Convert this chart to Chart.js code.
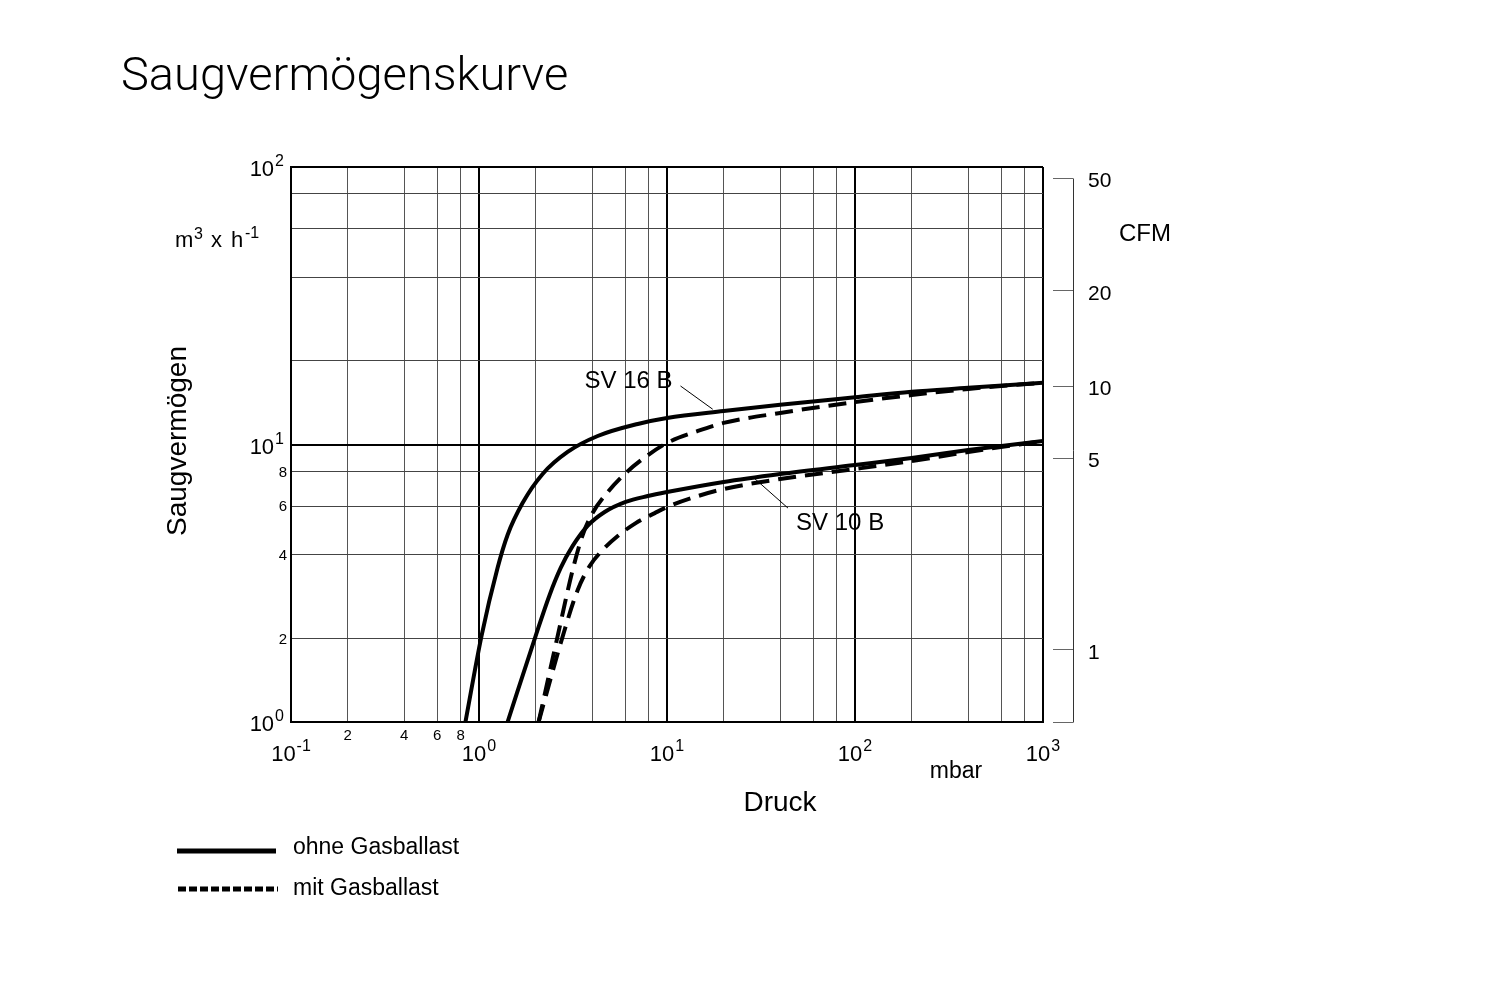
<!DOCTYPE html>
<html><head><meta charset="utf-8">
<script src="https://cdn.jsdelivr.net/npm/chart.js@4.4.1/dist/chart.umd.min.js"></script>
<style>html,body{margin:0;padding:0;background:#fff;}canvas{display:block}</style>
</head><body>
<canvas id="c" width="1504" height="1006"></canvas>
<script>
// ---- axes / ticks ----
const xGridValues = [0.1,0.2,0.4,0.6,0.8,1,2,4,6,8,10,20,40,60,80,100,200,400,600,800,1000];
const xMajorValues = [0.1,1,10,100,1000];
const xMajorExponents = ['-1','0','1','2','3'];
const xMinorLabelValues = [0.2,0.4,0.6,0.8];
const xMinorLabels = ['2','4','6','8'];
const yGridValues = [1,2,4,6,8,10,20,40,60,80,100];
const yMajorValues = [1,10,100];
const yMajorExponents = ['0','1','2'];
const yMinorLabelValues = [2,4,6,8];
const yMinorLabels = ['2','4','6','8'];
// CFM scale: ticks placed where the original prints them
const M3H_PER_CFM = 1.818;
const cfmTickPositions = [50,19.7,8.9,4.9,1];
const cfmTickLabels = ['50','20','10','5','1'];

// ---- series (p in mbar, S in m3/h) ----
const sv16OhneP = [0.847,1.031,1.255,1.419,1.705,2.18,2.96,4.28,6.99,10,20,40,100,200,400,1000];
const sv16OhneS = [1,2.04,3.59,4.72,6.15,7.83,9.40,10.73,11.86,12.46,13.2,13.9,14.8,15.5,16.0,16.7];
const sv16MitP  = [2.075,2.62,3.15,3.56,4.02,4.84,5.96,7.43,10,14.6,20,40,100,200,400,1000];
const sv16MitS  = [1,2.04,3.53,4.72,5.66,6.74,7.83,8.87,10.13,11.19,11.96,12.99,14.23,15.07,15.85,16.7];
const sv10OhneP = [1.419,2.0,2.375,2.72,3.15,3.78,4.66,6.03,7.9,10,20,40,100,200,400,1000];
const sv10OhneS = [1,2.04,2.87,3.59,4.31,5.09,5.71,6.21,6.52,6.74,7.33,7.83,8.44,8.94,9.55,10.3];
const sv10MitP  = [2.075,2.79,3.35,3.88,4.55,5.47,6.82,8.61,10,14.6,20,40,100,200,400,1000];
const sv10MitS  = [1,2.04,2.99,3.65,4.17,4.68,5.21,5.66,5.95,6.52,6.91,7.51,8.16,8.72,9.40,10.3];

const FONT = '"Liberation Sans", Arial, Helvetica, sans-serif';
const pts = (P,S) => P.map((p,i)=>({x:p,y:S[i]}));
const isMajor = v => [1,10,100].some(m => Math.abs(v-m) < 1e-9);

function drawPow(ctx, x, baseline, exp, align) {
  ctx.font = '22px ' + FONT; const w1 = ctx.measureText('10').width;
  ctx.font = '16px ' + FONT; const w2 = ctx.measureText(exp).width;
  const total = w1 + 1 + w2;
  const left = align === 'center' ? x - total/2 : x - total;
  ctx.textAlign = 'left'; ctx.textBaseline = 'alphabetic';
  ctx.font = '22px ' + FONT; ctx.fillText('10', left, baseline);
  ctx.font = '16px ' + FONT; ctx.fillText(exp, left + w1 + 1, baseline - 10);
}

const deco = {
  id: 'deco',
  afterDraw(chart) {
    const ctx = chart.ctx, xs = chart.scales.x, ys = chart.scales.y, cs = chart.scales.cfm;
    ctx.save();
    ctx.fillStyle = '#000'; ctx.strokeStyle = '#000';
    // x labels
    xMajorValues.forEach((v,i) => drawPow(ctx, xs.getPixelForValue(v), 761, xMajorExponents[i], 'center'));
    ctx.font = '15px ' + FONT; ctx.textAlign = 'center'; ctx.textBaseline = 'alphabetic';
    xMinorLabelValues.forEach((v,i) => ctx.fillText(xMinorLabels[i], xs.getPixelForValue(v), 740));
    // y labels
    yMajorValues.forEach((v,i) => drawPow(ctx, 284, ys.getPixelForValue(v) + 9, yMajorExponents[i], 'right'));
    ctx.font = '15px ' + FONT; ctx.textAlign = 'right'; ctx.textBaseline = 'middle';
    yMinorLabelValues.forEach((v,i) => ctx.fillText(yMinorLabels[i], 287, ys.getPixelForValue(v) + 1));
    // CFM axis line
    const lx = cs.left + 20;
    ctx.lineWidth = 1; ctx.strokeStyle = '#333';
    ctx.beginPath(); ctx.moveTo(lx + 0.5, cs.getPixelForValue(cfmTickPositions[0])); ctx.lineTo(lx + 0.5, cs.bottom + 0.5); ctx.stroke();
    // title
    ctx.fillStyle = '#000'; ctx.textAlign = 'left'; ctx.textBaseline = 'alphabetic';
    ctx.font = '300 47px Roboto, ' + FONT; ctx.fillText('Saugvermögenskurve', 121, 90);
    // axis titles & units
    ctx.font = '28px ' + FONT; ctx.textAlign = 'center'; ctx.textBaseline = 'middle';
    ctx.fillText('Druck', 780, 803);
    ctx.save(); ctx.translate(178, 441); ctx.rotate(-Math.PI/2); ctx.fillText('Saugvermögen', 0, 0); ctx.restore();
    ctx.font = '23px ' + FONT; ctx.fillText('mbar', 956, 772);
    ctx.textAlign = 'left'; ctx.font = '24px ' + FONT; ctx.fillText('CFM', 1119, 234);
    // m3 x h-1
    ctx.textBaseline = 'alphabetic';
    ctx.font = '22px ' + FONT; ctx.fillText('m', 175, 247);
    ctx.font = '16px ' + FONT; ctx.fillText('3', 194, 239);
    ctx.font = '22px ' + FONT; ctx.fillText('x', 211, 247); ctx.fillText('h', 231, 247);
    ctx.font = '16px ' + FONT; ctx.fillText('-1', 245, 238);
    // curve labels + leaders
    ctx.font = '24px ' + FONT; ctx.textBaseline = 'middle';
    ctx.textAlign = 'right'; ctx.fillText('SV 16 B', xs.getPixelForValue(10.7), ys.getPixelForValue(16.9));
    ctx.textAlign = 'left'; ctx.fillText('SV 10 B', xs.getPixelForValue(48.6), ys.getPixelForValue(5.21));
    ctx.lineWidth = 1; ctx.strokeStyle = '#000';
    ctx.beginPath();
    ctx.moveTo(xs.getPixelForValue(11.8), ys.getPixelForValue(16.25)); ctx.lineTo(xs.getPixelForValue(17.5), ys.getPixelForValue(13.4));
    ctx.moveTo(xs.getPixelForValue(28.6), ys.getPixelForValue(7.64)); ctx.lineTo(xs.getPixelForValue(44.0), ys.getPixelForValue(5.9));
    ctx.stroke();
    // legend
    ctx.lineWidth = 5; ctx.lineCap = 'butt';
    ctx.beginPath(); ctx.moveTo(177, 851); ctx.lineTo(276, 851); ctx.stroke();
    ctx.setLineDash([8,3]);
    ctx.beginPath(); ctx.moveTo(178, 889); ctx.lineTo(278, 889); ctx.stroke();
    ctx.setLineDash([]);
    ctx.font = '23px ' + FONT; ctx.textAlign = 'left'; ctx.textBaseline = 'middle';
    ctx.fillText('ohne Gasballast', 293, 848);
    ctx.fillText('mit Gasballast', 293, 889);
    ctx.restore();
  }
};

const line = (data, dashed) => ({
  data, borderColor:'#000', borderWidth:4, pointRadius:0, fill:false,
  cubicInterpolationMode:'monotone', borderDash: dashed ? [18,9] : [], borderCapStyle:'butt',
  xAxisID:'x', yAxisID:'y'
});

new Chart(document.getElementById('c'), {
  type: 'line',
  data: { datasets: [
    Object.assign(line(pts(sv16OhneP, sv16OhneS), false), {label:'SV 16 B ohne Gasballast'}),
    Object.assign(line(pts(sv16MitP, sv16MitS), true), {label:'SV 16 B mit Gasballast'}),
    Object.assign(line(pts(sv10OhneP, sv10OhneS), false), {label:'SV 10 B ohne Gasballast'}),
    Object.assign(line(pts(sv10MitP, sv10MitS), true), {label:'SV 10 B mit Gasballast'})
  ]},
  options: {
    responsive:false, animation:false, devicePixelRatio:1,
    layout: { padding: { top:167, left:0, right:0, bottom:0 } },
    plugins: { legend:{display:false}, tooltip:{enabled:false}, title:{display:false} },
    scales: {
      x: {
        type:'logarithmic', position:'bottom', min:0.1, max:1000,
        afterBuildTicks: s => { s.ticks = xGridValues.map(v=>({value:v})); },
        afterFit: s => { s.height = 284; },
        ticks:{display:false},
        grid:{ drawTicks:false,
          color: c => c.tick && (isMajor(c.tick.value) || c.tick.value===1000) ? '#000' : '#555',
          lineWidth: c => c.tick && (isMajor(c.tick.value) || c.tick.value===1000) ? 2 : 1 },
        border:{ color:'#000', width:2 }
      },
      y: {
        type:'logarithmic', position:'left', min:1, max:100,
        afterBuildTicks: s => { s.ticks = yGridValues.map(v=>({value:v})); },
        afterFit: s => { s.width = 291; },
        ticks:{display:false},
        grid:{ drawTicks:false,
          color: c => c.tick && (c.tick.value===10 || c.tick.value===100) ? '#000' : '#444',
          lineWidth: c => c.tick && (c.tick.value===10 || c.tick.value===100) ? 2 : 1 },
        border:{ color:'#000', width:2 }
      },
      spacer: {
        type:'linear', position:'right', min:0, max:1, weight:0,
        afterFit: s => { s.width = 10; },
        ticks:{display:false}, grid:{display:false}, border:{display:false}
      },
      cfm: {
        type:'logarithmic', position:'right', weight:1,
        min: 1/M3H_PER_CFM, max: 100/M3H_PER_CFM,
        afterBuildTicks: s => { s.ticks = cfmTickPositions.concat([1/M3H_PER_CFM]).map(v=>({value:v})); },
        afterFit: s => { s.width = 451; },
        ticks:{ autoSkip:false, maxRotation:0, padding:15, color:'#000', labelOffset:3,
          font:{ family: FONT, size:21 },
          callback: (v,i) => cfmTickLabels[i] !== undefined ? cfmTickLabels[i] : '' },
        grid:{ drawOnChartArea:false, drawTicks:true, tickLength:20, color:'#666', lineWidth:1 },
        border:{ display:false }
      }
    }
  },
  plugins:[deco]
});
</script>
</body></html>
